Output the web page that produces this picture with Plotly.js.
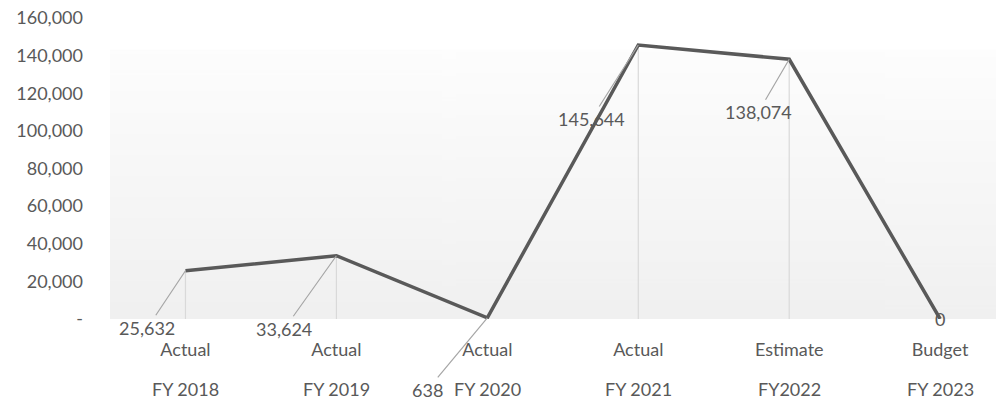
<!DOCTYPE html>
<html><head><meta charset="utf-8">
<script src="https://cdn.plot.ly/plotly-3.0.1.min.js"></script>
<style>html,body{margin:0;padding:0;background:#fff;}#chart{width:996px;height:403px;}</style>
</head><body><div id="chart"></div>
<script>
// ---- data ----
const statusLabels = ['Actual', 'Actual', 'Actual', 'Actual', 'Estimate', 'Budget'];
const yearLabels = ['FY 2018', 'FY 2019', 'FY 2020', 'FY 2021', 'FY2022', 'FY 2023'];
const values = [25632, 33624, 638, 145644, 138074, 0];
const valueLabels = ['25,632', '33,624', '638', '145,644', '138,074', '0'];
const yTickVals = [0, 20000, 40000, 60000, 80000, 100000, 120000, 140000, 160000];
const yTickText = ['-', '20,000', '40,000', '60,000', '80,000', '100,000', '120,000', '140,000', '160,000'];

// ---- layout config (label placement, pixels) ----
const labelOffsets = [[-38, 57], [-52, 73], [-60, 72], [-47, 74], [-31, 53], [0, 0]];

const idx = values.map((v, i) => i);
const textColor = '#595959';
const fontFam = 'Lato, "Open Sans", sans-serif';

// gradient background image
const cv = document.createElement('canvas');
cv.width = 4; cv.height = 256;
const ctx = cv.getContext('2d');
const g = ctx.createLinearGradient(0, 0, 0, 256);
g.addColorStop(0, '#fdfdfd');
g.addColorStop(1, '#f0f0f0');
ctx.fillStyle = g; ctx.fillRect(0, 0, 4, 256);
const gradURL = cv.toDataURL();

const traces = [
  {
    x: idx, y: values, type: 'scatter', mode: 'none', hoverinfo: 'skip', showlegend: false,
    error_y: {type: 'data', symmetric: false, array: values.map(() => 0), arrayminus: values,
              color: '#d9d9d9', thickness: 1.2, width: 0}
  },
  {
    x: idx, y: values, type: 'scatter', mode: 'lines', showlegend: false, cliponaxis: false,
    line: {color: '#595959', width: 3.5}
  }
];

const annotations = [];
values.forEach((v, i) => {
  const off = labelOffsets[i];
  const hasArrow = !(off[0] === 0 && off[1] === 0);
  annotations.push({
    x: i, y: v, xref: 'x', yref: 'y', text: valueLabels[i],
    showarrow: hasArrow, arrowhead: 0, arrowwidth: 1.2, arrowcolor: '#a6a6a6',
    ax: off[0], ay: off[1], font: {family: fontFam, size: 18, color: textColor}
  });
});
yearLabels.forEach((t, i) => {
  annotations.push({
    x: i, y: -0.233, xref: 'x', yref: 'paper', text: t, showarrow: false,
    xanchor: 'center', yanchor: 'middle',
    font: {family: fontFam, size: 18, color: textColor}
  });
});

const layout = {
  width: 996, height: 403,
  margin: {l: 110, r: 0, t: 18, b: 84},
  paper_bgcolor: '#ffffff', plot_bgcolor: 'rgba(0,0,0,0)',
  showlegend: false,
  font: {family: fontFam, color: textColor, size: 18},
  xaxis: {
    range: [-0.5, 5.37], tickmode: 'array', tickvals: idx, ticktext: statusLabels,
    showgrid: false, zeroline: false, showline: false, ticks: '',
    ticklabelstandoff: 18, tickfont: {family: fontFam, size: 18, color: textColor}
  },
  yaxis: {
    range: [0, 160000], tickmode: 'array', tickvals: yTickVals, ticktext: yTickText,
    showgrid: false, zeroline: false, showline: false, ticks: '',
    ticklabelstandoff: 26, tickfont: {family: fontFam, size: 18, color: textColor}
  },
  images: [{
    source: gradURL, xref: 'paper', yref: 'paper', x: 0, y: 0.894, sizex: 1, sizey: 0.894,
    xanchor: 'left', yanchor: 'top', sizing: 'stretch', layer: 'below'
  }],
  annotations: annotations
};

Plotly.newPlot('chart', traces, layout, {displayModeBar: false, staticPlot: true});
</script>
</body></html>
